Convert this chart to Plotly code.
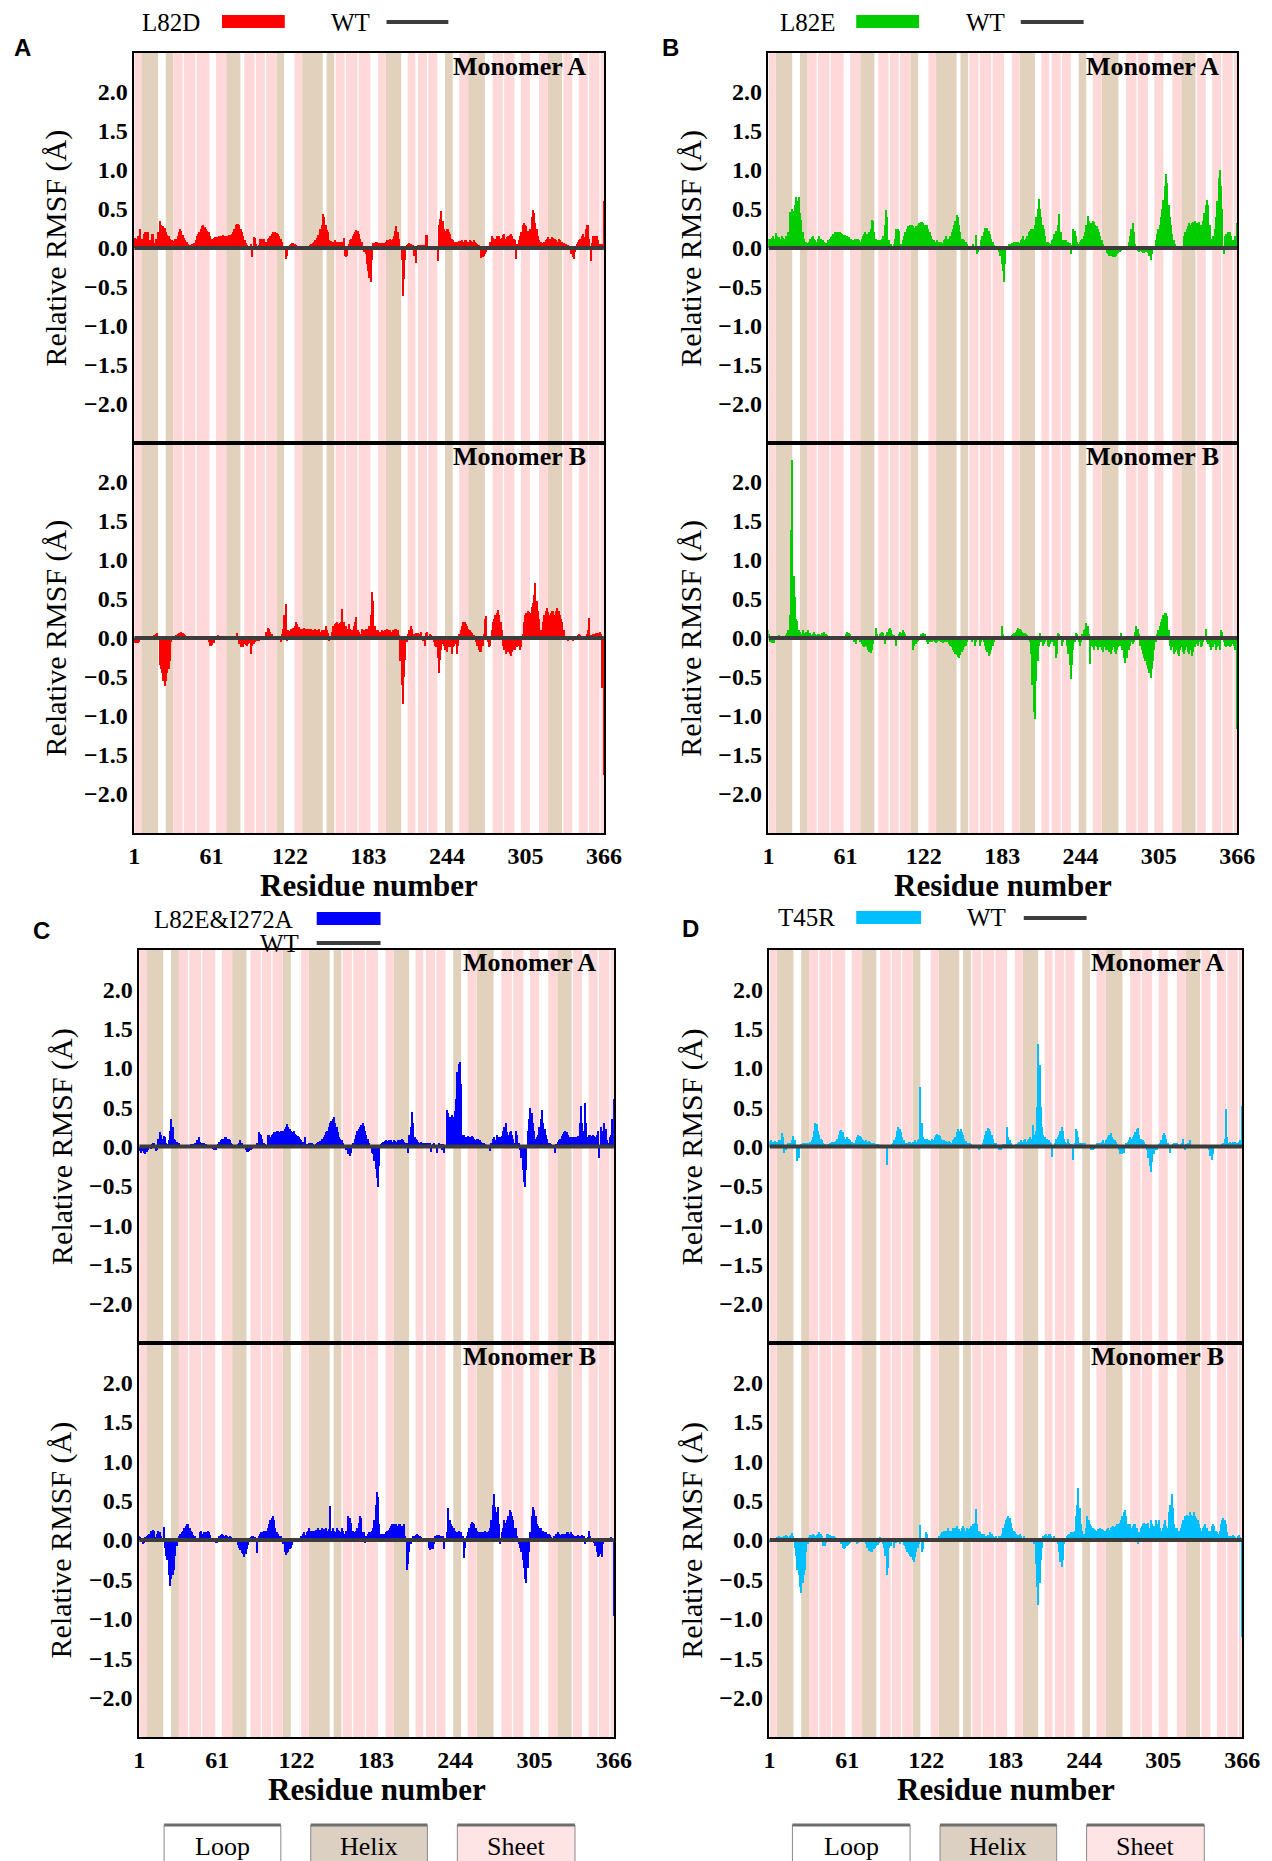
import plotly.graph_objects as go

W, H = 1272, 1861
residues = list(range(1, 367))
wt_relative = [0.0] * 366  # WT relative to itself

x_tick_vals = [1, 61, 122, 183, 244, 305, 366]
y_tick_vals = [-2.0, -1.5, -1.0, -0.5, 0.0, 0.5, 1.0, 1.5, 2.0]

helix_segments = [(7, 19), (26, 31), (73, 83), (112, 117), (132, 147), (151, 156),
                  (197, 208), (243, 248), (261, 273), (323, 333)]
sheet_segments = [(1, 6), (32, 38), (40, 48), (50, 59), (65, 72), (87, 94), (96, 102),
                  (104, 111), (126, 131), (158, 164), (166, 174), (176, 184), (191, 196),
                  (214, 219), (222, 228), (230, 236), (254, 260), (280, 287), (289, 296),
                  (302, 308), (316, 322), (335, 341), (347, 353), (355, 362), (364, 366)]

l82d_monomer_A = [
    0.12, 0.13, 0.12, 0.15, 0.14, 0.25, 0.12, 0.10, 0.18, 0.20,
    0.20, 0.20, 0.10, 0.10, 0.18, 0.18, 0.07, 0.12, 0.12, 0.20,
    0.34, 0.30, 0.22, 0.28, 0.26, 0.20, 0.17, 0.15, 0.12, 0.10,
    0.10, 0.09, 0.11, 0.12, 0.15, 0.20, 0.24, 0.22, 0.17, 0.13,
    0.10, 0.08, 0.05, 0.04, 0.04, 0.05, 0.05, 0.06, 0.10, 0.15,
    0.18, 0.20, 0.24, 0.28, 0.30, 0.27, 0.25, 0.22, 0.20, 0.15,
    0.12, 0.12, 0.13, 0.14, 0.14, 0.14, 0.15, 0.15, 0.16, 0.17,
    0.15, 0.15, 0.15, 0.16, 0.17, 0.17, 0.18, 0.20, 0.24, 0.30,
    0.31, 0.31, 0.30, 0.25, 0.20, 0.15, 0.10, 0.06, 0.04, 0.03,
    0.03, 0.05, -0.11, 0.14, 0.13, 0.05, 0.03, 0.04, 0.12, 0.12,
    0.11, 0.11, 0.04, 0.08, 0.12, 0.13, 0.15, 0.18, 0.20, 0.20,
    0.20, 0.19, 0.18, 0.15, 0.12, 0.08, 0.03, 0.01, -0.14, -0.10,
    0.03, 0.04, 0.05, 0.06, 0.06, 0.05, 0.04, 0.03, 0.03, 0.02,
    0.02, 0.02, 0.02, 0.02, 0.02, 0.02, 0.03, 0.04, 0.05, 0.06,
    0.08, 0.10, 0.13, 0.17, 0.15, 0.25, 0.30, 0.44, 0.40, 0.30,
    0.23, 0.20, 0.10, 0.09, 0.08, 0.08, 0.10, 0.07, 0.08, 0.08,
    0.08, 0.08, 0.08, 0.13, -0.10, -0.12, -0.10, 0.05, 0.10, 0.12,
    0.15, 0.18, 0.20, 0.23, 0.22, 0.18, 0.12, 0.08, 0.03, -0.05,
    -0.08, -0.20, -0.30, -0.38, -0.44, -0.15, 0.06, 0.07, 0.08, 0.08,
    0.07, 0.06, 0.07, 0.07, 0.06, 0.07, 0.08, 0.10, 0.10, 0.12,
    0.10, 0.12, 0.15, 0.22, 0.28, 0.20, 0.12, 0.02, -0.15, -0.62,
    -0.40, -0.15, 0.04, 0.05, 0.06, 0.05, 0.04, 0.04, -0.10, -0.19,
    0.03, 0.04, 0.04, 0.04, 0.03, 0.04, 0.04, 0.17, 0.17, 0.03,
    0.03, 0.03, 0.03, 0.03, 0.03, 0.03, -0.17, 0.30, 0.37, 0.48,
    0.35, 0.24, 0.22, 0.25, 0.24, 0.20, 0.18, 0.12, 0.10, 0.08,
    0.08, 0.08, 0.08, 0.09, 0.09, 0.10, 0.08, 0.10, 0.10, 0.08,
    0.08, 0.10, 0.09, 0.08, 0.10, 0.08, 0.06, 0.05, 0.04, 0.02,
    -0.13, -0.12, -0.10, -0.08, -0.05, -0.03, 0.02, 0.08, 0.16, 0.13,
    0.10, 0.12, 0.15, 0.13, 0.15, 0.12, 0.13, 0.17, 0.18, 0.12,
    0.14, 0.15, 0.17, 0.18, 0.15, 0.12, 0.10, -0.14, 0.05, 0.10,
    0.15, 0.20, 0.30, 0.32, 0.30, 0.28, 0.22, 0.15, 0.25, 0.40,
    0.49, 0.45, 0.32, 0.25, 0.15, 0.10, 0.08, 0.07, 0.06, 0.08,
    0.10, 0.12, 0.14, 0.12, 0.12, 0.14, 0.13, 0.12, 0.10, 0.08,
    0.12, 0.10, 0.08, 0.08, 0.06, 0.05, 0.05, 0.04, 0.02, 0.01,
    -0.08, -0.12, -0.14, -0.05, 0.05, 0.08, 0.10, 0.12, 0.15, 0.18,
    0.14, 0.25, 0.30, 0.30, 0.12, -0.17, 0.06, 0.15, 0.16, 0.16,
    0.15, 0.10, 0.05, 0.04, 0.05, 0.60]

l82d_monomer_B = [
    -0.05, -0.06, -0.06, -0.06, -0.05, -0.02, 0.00, 0.01, 0.01, 0.01,
    0.01, 0.02, 0.02, 0.02, 0.03, 0.03, 0.04, 0.05, 0.07, 0.02,
    -0.35, -0.40, -0.45, -0.55, -0.61, -0.55, -0.45, -0.40, -0.30, -0.05,
    0.02, 0.03, 0.03, 0.04, 0.05, 0.06, 0.07, 0.08, 0.06, 0.05,
    0.04, 0.03, 0.02, 0.01, 0.01, 0.01, 0.01, 0.01, 0.01, 0.01,
    0.01, 0.01, 0.01, 0.01, 0.01, 0.01, 0.01, 0.01, -0.05, -0.10,
    -0.10, -0.09, -0.06, -0.03, 0.02, 0.04, 0.03, 0.01, 0.01, 0.01,
    0.01, 0.01, 0.01, 0.01, 0.01, 0.01, 0.01, 0.01, 0.01, 0.01,
    0.06, 0.03, -0.08, -0.11, -0.10, -0.11, -0.08, -0.09, -0.10, -0.08,
    -0.06, -0.21, -0.10, -0.08, -0.05, -0.04, -0.04, -0.04, -0.03, -0.03,
    -0.03, -0.02, 0.03, 0.08, 0.13, 0.12, 0.08, 0.05, 0.03, 0.03,
    0.03, 0.03, 0.02, 0.03, -0.05, 0.05, 0.12, 0.30, 0.44, -0.04,
    0.10, 0.09, 0.12, 0.10, 0.13, 0.15, 0.20, 0.18, 0.14, 0.12,
    0.08, 0.12, 0.13, 0.12, 0.12, 0.11, 0.12, 0.10, 0.12, 0.10,
    0.10, 0.11, 0.10, 0.09, 0.12, 0.08, 0.10, 0.06, 0.10, 0.15,
    0.10, 0.06, -0.04, 0.02, 0.08, 0.15, 0.18, 0.19, 0.20, 0.18,
    0.19, 0.20, 0.37, 0.20, 0.10, 0.15, 0.12, 0.18, 0.12, 0.10,
    0.10, 0.15, 0.20, 0.27, 0.10, 0.08, 0.05, 0.12, 0.10, 0.10,
    0.12, 0.10, 0.12, 0.15, 0.30, 0.59, 0.48, 0.15, 0.10, 0.10,
    0.10, 0.08, 0.08, 0.10, 0.09, 0.10, 0.10, 0.11, 0.10, 0.10,
    0.08, 0.10, 0.10, 0.12, 0.12, 0.10, 0.04, -0.30, -0.60, -0.85,
    -0.50, -0.28, -0.05, 0.05, 0.10, 0.15, 0.12, 0.05, 0.05, 0.06,
    0.05, 0.07, 0.05, 0.08, 0.02, -0.04, -0.10, 0.06, 0.08, 0.03,
    0.05, 0.04, 0.02, -0.05, -0.10, -0.12, -0.25, -0.45, -0.28, -0.15,
    -0.08, -0.10, -0.15, -0.18, -0.12, -0.10, -0.12, -0.20, -0.12, -0.10,
    -0.08, -0.20, -0.10, 0.05, 0.10, 0.15, 0.21, 0.20, 0.18, 0.15,
    0.12, 0.10, 0.08, 0.06, 0.04, 0.02, -0.05, -0.10, -0.15, -0.18,
    -0.18, -0.10, 0.05, 0.25, 0.28, -0.05, -0.12, -0.10, 0.10, 0.20,
    0.25, 0.30, 0.32, 0.36, 0.30, 0.20, 0.10, -0.10, -0.15, -0.20,
    -0.15, -0.18, -0.20, -0.23, -0.18, -0.15, -0.15, -0.12, -0.12, -0.10,
    -0.15, -0.12, 0.05, 0.20, 0.30, 0.32, 0.35, 0.33, 0.32, 0.40,
    0.45, 0.55, 0.71, 0.48, 0.35, 0.25, 0.10, 0.10, 0.20, 0.30,
    0.35, 0.38, 0.33, 0.30, 0.32, 0.35, 0.34, 0.30, 0.34, 0.38,
    0.35, 0.30, 0.25, 0.20, 0.10, 0.02, -0.03, -0.04, -0.02, 0.01,
    -0.03, -0.04, -0.02, 0.02, 0.03, 0.04, 0.05, 0.04, 0.02, 0.03,
    0.03, -0.02, 0.05, 0.10, 0.26, 0.04, 0.04, 0.05, 0.05, 0.06,
    0.06, 0.06, 0.08, 0.05, -0.64, -1.75]

l82e_monomer_A = [
    0.12, 0.12, 0.11, 0.13, 0.15, 0.12, 0.19, 0.15, 0.10, 0.14,
    0.12, 0.15, 0.13, 0.12, 0.15, 0.13, 0.20, 0.46, 0.45, 0.50,
    0.48, 0.55, 0.66, 0.60, 0.66, 0.45, 0.36, 0.20, 0.12, 0.08,
    0.08, 0.07, 0.08, 0.12, 0.14, 0.15, 0.12, 0.10, 0.08, 0.12,
    0.16, 0.12, 0.08, 0.10, 0.08, 0.06, 0.06, 0.10, 0.12, 0.14,
    0.16, 0.18, 0.20, 0.21, 0.20, 0.21, 0.20, 0.19, 0.18, 0.17,
    0.17, 0.16, 0.15, 0.14, 0.12, 0.12, 0.10, 0.10, 0.11, 0.12,
    0.12, 0.10, 0.08, 0.12, 0.15, 0.18, 0.20, 0.18, 0.16, 0.20,
    0.25, 0.36, 0.35, 0.20, 0.12, 0.10, 0.10, 0.10, 0.10, 0.12,
    0.15, 0.30, 0.49, 0.40, 0.10, 0.05, 0.05, 0.03, 0.05, 0.12,
    0.25, 0.24, 0.22, 0.05, 0.05, 0.10, 0.15, 0.20, 0.25, 0.28,
    0.28, 0.30, 0.30, 0.28, 0.26, 0.28, 0.20, 0.30, 0.32, 0.33,
    0.33, 0.32, 0.30, 0.30, 0.30, 0.25, 0.20, 0.15, 0.12, 0.10,
    0.08, 0.06, 0.10, 0.08, 0.07, 0.08, 0.07, 0.10, 0.12, 0.15,
    0.12, 0.12, 0.15, 0.20, 0.25, 0.30, 0.35, 0.42, 0.40, 0.30,
    0.20, 0.12, 0.12, 0.10, 0.08, 0.05, 0.03, 0.02, 0.02, 0.03,
    0.05, 0.02, 0.17, -0.08, -0.05, 0.02, 0.10, 0.15, 0.20, 0.26,
    0.26, 0.26, 0.22, 0.18, 0.12, 0.08, 0.04, 0.00, -0.01, -0.02,
    -0.05, -0.10, -0.20, -0.30, -0.44, -0.20, 0.02, 0.03, 0.05, 0.05,
    0.06, 0.05, 0.08, 0.08, 0.07, 0.08, 0.07, 0.10, 0.12, 0.15,
    0.10, 0.12, 0.15, 0.20, 0.22, 0.24, 0.24, 0.25, 0.30, 0.40,
    0.50, 0.63, 0.50, 0.40, 0.30, 0.25, 0.15, 0.08, 0.08, 0.06,
    0.05, 0.10, 0.12, 0.18, 0.22, 0.20, 0.30, 0.43, 0.20, 0.10,
    0.10, 0.10, 0.10, 0.08, 0.08, 0.06, -0.08, 0.04, 0.24, 0.22,
    0.15, 0.08, 0.05, 0.08, 0.10, 0.12, 0.15, 0.20, 0.30, 0.41,
    0.35, 0.30, 0.32, 0.34, 0.33, 0.30, 0.28, 0.25, 0.20, 0.15,
    0.10, 0.05, 0.01, -0.03, -0.06, -0.08, -0.10, -0.10, -0.10, -0.12,
    -0.12, -0.10, -0.08, -0.06, -0.05, -0.04, -0.03, -0.02, 0.01, -0.03,
    0.02, 0.08, 0.15, 0.25, 0.32, 0.20, 0.05, 0.01, -0.04, -0.05,
    -0.04, -0.05, -0.06, -0.06, -0.05, -0.05, -0.06, -0.10, -0.15, -0.08,
    0.00, 0.02, 0.10, 0.18, 0.25, 0.30, 0.40, 0.50, 0.62, 0.80,
    0.95, 0.83, 0.55, 0.40, 0.30, 0.18, 0.10, 0.05, 0.03, 0.02,
    0.02, 0.02, 0.03, 0.03, 0.15, 0.20, 0.25, 0.28, 0.32, 0.30,
    0.32, 0.33, 0.30, 0.34, 0.32, 0.30, 0.33, 0.30, 0.28, 0.35,
    0.45, 0.55, 0.62, 0.55, 0.30, 0.10, 0.12, 0.15, 0.25, 0.40,
    0.60, 0.90, 1.00, 0.80, 0.50, -0.08, 0.15, 0.18, 0.20, 0.19,
    0.20, 0.15, 0.10, 0.05, 0.15, 0.32]

l82e_monomer_B = [
    0.10, 0.05, -0.05, -0.06, -0.06, -0.06, -0.02, 0.02, 0.03, 0.04,
    0.02, 0.03, 0.01, 0.02, 0.04, 0.06, 0.10, 0.30, 1.38, 2.28,
    0.80, 0.53, 0.24, 0.22, 0.10, 0.08, 0.05, 0.10, 0.06, 0.04,
    0.08, 0.10, 0.05, 0.06, 0.04, 0.05, 0.08, 0.05, 0.04, 0.05,
    0.05, 0.04, 0.06, 0.03, 0.08, 0.05, 0.04, 0.03, 0.02, 0.03,
    0.03, 0.02, 0.03, 0.02, 0.02, 0.03, 0.02, 0.00, -0.03, -0.03,
    0.02, 0.05, 0.08, 0.07, 0.05, 0.03, -0.02, -0.05, -0.05, -0.08,
    0.02, 0.01, -0.05, -0.08, -0.10, -0.12, -0.10, -0.12, -0.15, -0.18,
    -0.19, -0.15, -0.08, 0.02, 0.13, 0.05, -0.03, 0.05, 0.06, 0.08,
    0.06, -0.08, 0.04, 0.08, 0.12, 0.13, 0.10, 0.05, 0.04, 0.02,
    -0.10, 0.02, 0.05, 0.08, 0.06, 0.10, 0.08, 0.05, 0.03, 0.02,
    0.02, 0.01, -0.03, -0.15, -0.10, -0.08, -0.05, -0.04, 0.02, 0.05,
    0.04, 0.07, 0.05, -0.03, -0.05, -0.08, -0.05, -0.03, -0.05, -0.04,
    -0.05, -0.06, -0.05, -0.04, -0.03, -0.05, -0.06, -0.05, -0.04, -0.05,
    -0.05, -0.08, -0.10, -0.12, -0.15, -0.18, -0.20, -0.22, -0.24, -0.26,
    -0.22, -0.18, -0.15, -0.12, -0.10, -0.05, -0.02, 0.01, -0.03, -0.05,
    -0.02, -0.10, -0.05, 0.02, 0.03, -0.10, -0.05, 0.01, -0.05, -0.10,
    -0.15, -0.18, -0.23, -0.20, -0.15, -0.10, -0.05, 0.02, 0.03, 0.02,
    0.01, 0.02, 0.16, 0.05, -0.02, -0.03, -0.02, -0.01, 0.01, 0.03,
    0.04, 0.05, 0.06, 0.08, 0.10, 0.13, 0.12, 0.10, 0.08, 0.06,
    0.06, 0.05, 0.04, 0.02, -0.05, -0.20, -0.60, -0.95, -1.04, -0.55,
    -0.30, -0.10, 0.06, -0.05, -0.10, -0.08, -0.05, 0.02, -0.10, -0.12,
    -0.08, -0.05, -0.03, -0.10, -0.25, -0.20, 0.06, 0.05, -0.03, -0.10,
    -0.05, -0.03, -0.02, -0.10, -0.20, -0.35, -0.53, -0.35, -0.15, -0.05,
    0.06, 0.05, -0.05, -0.10, -0.05, 0.05, 0.10, 0.12, 0.19, 0.15,
    0.05, -0.33, -0.10, -0.12, -0.15, -0.10, -0.12, -0.15, -0.10, -0.12,
    -0.15, -0.18, -0.12, -0.15, -0.16, -0.12, -0.18, -0.20, -0.15, -0.12,
    -0.18, -0.20, -0.15, -0.12, -0.10, 0.06, -0.15, -0.25, -0.32, -0.20,
    -0.25, -0.15, -0.10, -0.05, -0.08, -0.05, 0.08, 0.15, 0.12, 0.05,
    -0.10, -0.15, -0.20, -0.25, -0.30, -0.35, -0.40, -0.45, -0.51, -0.40,
    -0.30, -0.15, -0.05, 0.05, 0.10, 0.15, 0.20, 0.25, 0.30, 0.32,
    0.32, 0.28, 0.10, -0.10, -0.15, -0.12, -0.20, -0.18, -0.15, -0.20,
    -0.23, -0.15, -0.12, -0.18, -0.20, -0.15, -0.12, -0.18, -0.20, -0.15,
    -0.23, -0.18, -0.10, -0.12, -0.08, -0.10, -0.05, -0.12, -0.10, -0.05,
    -0.02, 0.12, -0.05, -0.08, -0.12, -0.15, -0.10, -0.12, -0.08, -0.15,
    -0.12, -0.10, -0.15, 0.10, 0.08, -0.05, -0.10, -0.12, -0.10, -0.08,
    -0.12, -0.10, -0.08, -0.10, -0.15, -1.17]

l82e_i272a_monomer_A = [
    -0.04, -0.06, -0.08, -0.06, -0.08, -0.10, -0.07, -0.05, -0.02, -0.03,
    0.03, 0.05, 0.05, -0.06, -0.04, 0.10, 0.18, 0.15, 0.10, 0.13,
    0.12, 0.05, 0.03, 0.08, 0.20, 0.35, 0.25, 0.10, 0.08, 0.06,
    0.05, 0.05, 0.02, 0.02, 0.02, 0.02, 0.02, 0.02, 0.02, 0.02,
    0.03, 0.03, 0.03, 0.05, 0.05, 0.08, 0.12, 0.06, 0.05, 0.04,
    0.04, 0.03, 0.03, 0.02, 0.02, 0.02, 0.01, -0.03, -0.05, -0.04,
    -0.02, 0.03, 0.06, 0.08, 0.10, 0.10, 0.12, 0.12, 0.10, 0.10,
    0.08, 0.05, 0.03, 0.02, 0.02, 0.02, 0.03, 0.05, 0.08, 0.05,
    0.01, 0.01, -0.05, -0.07, -0.07, -0.06, -0.05, -0.03, 0.00, 0.02,
    0.02, 0.04, 0.18, 0.16, 0.15, 0.10, 0.05, 0.03, 0.02, 0.15,
    0.15, 0.12, 0.15, 0.16, 0.18, 0.18, 0.20, 0.20, 0.18, 0.20,
    0.18, 0.20, 0.22, 0.25, 0.28, 0.25, 0.22, 0.20, 0.18, 0.20,
    0.16, 0.15, 0.13, 0.12, 0.10, 0.08, 0.06, 0.05, 0.12, 0.03,
    0.03, 0.04, 0.05, 0.04, 0.03, 0.02, 0.03, 0.05, 0.06, 0.07,
    0.07, 0.10, 0.12, 0.15, 0.18, 0.20, 0.25, 0.30, 0.32, 0.35,
    0.37, 0.30, 0.25, 0.18, 0.12, 0.10, 0.08, 0.05, 0.02, -0.05,
    -0.05, -0.10, -0.12, -0.08, 0.02, 0.05, 0.10, 0.15, 0.20, 0.22,
    0.25, 0.27, 0.30, 0.26, 0.20, 0.15, 0.10, 0.05, 0.02, -0.08,
    -0.10, -0.18, -0.28, -0.40, -0.51, -0.25, 0.03, 0.04, 0.06, 0.07,
    0.08, 0.07, 0.08, 0.07, 0.08, 0.06, 0.08, 0.07, 0.06, 0.08,
    0.06, 0.08, 0.10, 0.08, 0.06, 0.05, 0.04, -0.08, 0.15, 0.25,
    0.44, 0.30, 0.12, 0.10, 0.08, 0.06, 0.05, 0.06, 0.05, 0.04,
    0.05, 0.04, 0.05, 0.02, 0.05, -0.07, 0.03, 0.04, 0.02, -0.08,
    0.02, 0.04, 0.03, -0.05, 0.03, -0.08, 0.02, 0.47, 0.42, 0.38,
    0.35, 0.40, 0.38, 0.45, 0.60, 0.95, 1.05, 1.08, 0.80, 0.15,
    0.15, 0.12, 0.12, 0.13, 0.12, 0.12, 0.13, 0.12, 0.10, 0.08,
    0.10, 0.10, 0.08, 0.06, 0.05, 0.04, 0.03, 0.02, 0.02, 0.01,
    -0.06, 0.05, 0.10, 0.12, 0.08, 0.15, 0.10, 0.12, 0.12, 0.14,
    0.20, 0.25, 0.30, 0.18, 0.15, 0.18, 0.20, 0.15, 0.10, 0.05,
    0.20, 0.15, 0.05, -0.05, -0.15, -0.30, -0.45, -0.51, -0.30, 0.20,
    0.35, 0.49, 0.42, 0.30, 0.20, 0.10, 0.12, 0.15, 0.25, 0.35,
    0.47, 0.30, 0.22, 0.15, 0.10, 0.05, 0.04, 0.03, 0.02, 0.02,
    -0.08, 0.03, 0.06, 0.08, 0.10, 0.13, 0.16, 0.18, 0.20, 0.18,
    0.15, 0.12, 0.12, 0.12, 0.12, 0.12, 0.12, 0.12, 0.14, 0.30,
    0.51, 0.30, 0.20, 0.55, 0.30, 0.12, 0.15, 0.15, 0.14, 0.15,
    0.14, 0.12, 0.15, 0.20, -0.15, 0.25, 0.20, 0.12, 0.30, 0.22,
    0.08, 0.05, 0.12, 0.15, 0.35, 0.60]

l82e_i272a_monomer_B = [
    0.05, 0.04, -0.03, -0.05, -0.04, 0.04, 0.05, 0.06, 0.08, 0.12,
    0.10, 0.13, 0.12, 0.04, 0.08, 0.12, 0.10, 0.05, -0.03, 0.17,
    -0.10, -0.20, -0.25, -0.45, -0.59, -0.50, -0.45, -0.38, -0.20, -0.08,
    0.03, 0.05, 0.08, 0.10, 0.12, 0.15, 0.18, 0.20, 0.20, 0.15,
    0.12, 0.10, 0.06, 0.05, 0.03, 0.03, 0.03, 0.10, 0.12, 0.08,
    0.10, 0.08, 0.10, 0.12, 0.10, 0.06, 0.03, 0.02, 0.02, -0.04,
    -0.04, 0.03, 0.05, 0.06, 0.08, 0.06, 0.05, 0.06, 0.05, 0.04,
    0.05, 0.04, 0.02, 0.01, 0.00, -0.03, -0.06, -0.10, -0.13, -0.16,
    -0.18, -0.21, -0.18, -0.12, -0.06, 0.02, 0.04, 0.05, 0.05, 0.04,
    0.03, -0.17, 0.05, 0.08, 0.10, 0.10, 0.12, 0.10, 0.12, 0.15,
    0.20, 0.25, 0.28, 0.30, 0.25, 0.15, 0.10, 0.08, 0.05, 0.05,
    0.00, -0.05, -0.15, -0.19, -0.17, -0.15, -0.12, -0.10, -0.06, -0.03,
    0.00, 0.01, 0.00, 0.01, 0.02, 0.05, 0.08, 0.10, 0.06, 0.10,
    0.12, 0.15, 0.12, 0.12, 0.10, 0.12, 0.13, 0.12, 0.15, 0.13,
    0.12, 0.15, 0.14, 0.12, 0.15, 0.12, 0.14, 0.43, 0.12, 0.15,
    0.12, 0.10, 0.15, 0.13, 0.12, 0.10, 0.15, 0.12, 0.08, 0.12,
    0.12, 0.30, 0.28, 0.22, 0.10, 0.12, 0.10, 0.12, 0.15, 0.22,
    0.30, 0.28, 0.10, 0.10, -0.04, 0.05, 0.08, 0.10, 0.10, 0.12,
    0.15, 0.25, 0.45, 0.61, 0.55, 0.20, 0.08, 0.05, 0.07, 0.08,
    0.10, 0.12, 0.13, 0.15, 0.18, 0.20, 0.20, 0.18, 0.20, 0.18,
    0.20, 0.20, 0.18, 0.15, 0.20, 0.05, -0.38, -0.30, -0.15, -0.05,
    0.03, 0.05, 0.05, 0.06, 0.08, 0.06, 0.05, 0.04, 0.03, 0.02,
    0.03, 0.02, -0.03, -0.10, -0.13, -0.12, -0.12, -0.05, 0.05, 0.06,
    0.06, 0.06, 0.05, 0.04, 0.05, -0.12, 0.03, 0.10, 0.40, 0.25,
    0.20, 0.18, 0.15, 0.12, 0.10, 0.10, 0.12, 0.10, 0.10, 0.05,
    -0.23, -0.10, 0.05, 0.10, 0.15, 0.20, 0.23, 0.22, 0.20, 0.15,
    0.12, 0.10, 0.10, 0.08, 0.10, 0.10, 0.12, 0.10, 0.10, 0.12,
    0.15, 0.25, 0.45, 0.58, 0.42, 0.35, 0.42, 0.20, -0.05, 0.10,
    0.15, 0.25, 0.22, 0.25, 0.30, 0.38, 0.35, 0.30, 0.25, 0.15,
    0.15, 0.05, -0.05, -0.10, -0.15, -0.25, -0.35, -0.50, -0.55, -0.35,
    -0.15, 0.10, 0.30, 0.42, 0.38, 0.30, 0.20, 0.18, 0.15, 0.15,
    0.12, 0.12, 0.10, 0.10, 0.08, 0.08, 0.06, 0.04, 0.03, 0.05,
    0.05, 0.08, 0.10, 0.08, 0.06, 0.08, 0.06, 0.08, 0.08, 0.10,
    0.10, 0.08, 0.10, 0.08, 0.06, 0.05, 0.05, 0.05, 0.06, 0.05,
    0.04, 0.06, 0.05, -0.05, 0.02, 0.04, 0.12, 0.05, -0.03, -0.02,
    -0.04, -0.08, -0.15, -0.21, -0.20, -0.18, -0.21, -0.05, 0.02, 0.03,
    0.02, 0.03, 0.03, 0.04, 0.02, -0.97]

t45r_monomer_A = [
    0.06, 0.07, 0.08, 0.06, 0.05, 0.07, 0.06, 0.05, 0.08, 0.08,
    0.17, 0.12, -0.08, -0.04, 0.02, 0.04, 0.05, 0.03, 0.08, 0.13,
    0.08, 0.02, -0.19, -0.15, 0.02, 0.03, 0.04, 0.05, 0.04, 0.05,
    0.05, 0.05, 0.06, 0.08, 0.12, 0.20, 0.30, 0.28, 0.20, 0.15,
    0.10, 0.08, 0.05, 0.03, 0.02, 0.02, 0.03, 0.04, 0.05, 0.06,
    0.06, 0.05, 0.07, 0.10, 0.15, 0.20, 0.21, 0.18, 0.12, 0.10,
    0.12, 0.10, 0.10, 0.08, 0.06, 0.04, 0.05, 0.08, 0.12, 0.15,
    0.13, 0.12, 0.10, 0.08, 0.07, 0.08, 0.06, 0.07, 0.06, 0.05,
    0.05, 0.04, 0.03, 0.03, 0.03, 0.02, 0.02, 0.01, 0.01, -0.01,
    0.01, -0.23, 0.01, 0.02, 0.02, 0.03, 0.04, 0.08, 0.12, 0.20,
    0.25, 0.22, 0.18, 0.12, 0.08, 0.05, 0.04, 0.05, 0.06, 0.06,
    0.05, 0.06, 0.06, 0.08, 0.06, 0.08, 0.10, 0.76, 0.30, 0.12,
    0.10, 0.10, 0.09, 0.08, 0.08, 0.07, 0.10, 0.08, 0.12, 0.15,
    0.16, 0.15, 0.14, 0.10, 0.08, 0.08, 0.06, 0.07, 0.06, 0.07,
    0.06, 0.05, 0.08, 0.10, 0.12, 0.18, 0.22, 0.20, 0.22, 0.18,
    0.15, 0.10, 0.07, 0.05, 0.05, 0.04, 0.03, 0.02, 0.02, 0.01,
    0.01, -0.02, -0.05, -0.03, 0.01, 0.05, 0.10, 0.15, 0.20, 0.23,
    0.22, 0.20, 0.15, 0.10, 0.05, 0.04, 0.02, 0.02, -0.04, -0.04,
    0.02, 0.03, 0.03, 0.02, 0.25, 0.12, 0.08, 0.05, 0.01, 0.01,
    0.01, 0.03, 0.05, 0.06, 0.06, 0.08, 0.06, 0.08, 0.10, 0.06,
    0.08, 0.10, 0.12, 0.10, 0.27, 0.15, 0.20, 0.50, 1.30, 1.04,
    0.50, 0.25, 0.15, 0.12, 0.10, 0.10, 0.08, 0.06, 0.05, -0.13,
    0.02, 0.05, 0.10, 0.12, 0.15, 0.20, 0.25, 0.20, 0.10, 0.06,
    0.05, 0.10, 0.05, 0.03, 0.03, -0.17, 0.04, 0.22, 0.20, 0.12,
    0.05, 0.05, 0.05, 0.05, 0.04, 0.02, 0.01, 0.01, 0.00, -0.05,
    -0.05, -0.03, 0.02, 0.04, 0.05, 0.04, 0.05, 0.06, 0.08, 0.05,
    0.08, 0.10, 0.12, 0.15, 0.17, 0.12, 0.10, 0.08, 0.06, 0.03,
    -0.05, -0.10, -0.10, -0.10, -0.08, -0.02, 0.04, 0.06, 0.08, 0.12,
    0.10, 0.12, 0.15, 0.18, 0.22, 0.24, 0.15, 0.10, 0.08, 0.08,
    0.06, 0.03, -0.05, -0.15, -0.25, -0.32, -0.20, -0.10, -0.05, -0.05,
    -0.05, 0.03, 0.05, 0.08, 0.15, 0.17, 0.15, 0.10, 0.05, 0.02,
    -0.08, 0.02, 0.03, 0.04, 0.05, 0.04, 0.03, 0.02, 0.03, 0.04,
    0.10, -0.05, 0.03, 0.02, 0.05, 0.08, 0.02, 0.02, 0.02, 0.02,
    0.02, 0.02, 0.02, 0.01, 0.02, 0.02, 0.01, 0.02, 0.01, 0.00,
    -0.05, -0.12, -0.17, -0.10, 0.01, 0.01, 0.02, 0.02, 0.02, 0.02,
    0.03, 0.05, 0.10, 0.48, 0.12, 0.05, 0.06, 0.05, 0.06, 0.06,
    0.06, 0.05, 0.05, 0.06, 0.08, 0.51]

t45r_monomer_B = [
    -0.04, -0.03, 0.02, 0.01, 0.02, 0.03, 0.04, 0.03, 0.05, 0.04,
    0.04, 0.03, 0.05, 0.06, 0.05, 0.04, 0.05, 0.06, 0.09, 0.05,
    -0.10, -0.20, -0.38, -0.45, -0.60, -0.67, -0.55, -0.45, -0.38, -0.15,
    -0.05, 0.04, 0.06, 0.06, 0.07, 0.06, 0.05, 0.06, 0.08, 0.10,
    0.08, 0.05, -0.08, -0.07, -0.04, 0.07, 0.07, 0.06, 0.04, 0.05,
    0.05, 0.04, 0.03, 0.02, 0.03, 0.02, -0.05, -0.10, -0.12, -0.10,
    -0.08, -0.06, -0.05, -0.04, -0.03, 0.02, 0.02, 0.03, -0.05, -0.04,
    -0.03, 0.02, 0.03, 0.02, 0.01, -0.05, -0.10, -0.14, -0.12, -0.15,
    -0.15, -0.12, -0.10, -0.08, -0.06, -0.04, 0.04, 0.03, -0.05, -0.10,
    -0.20, -0.45, -0.35, -0.10, -0.08, 0.03, 0.03, -0.10, -0.04, 0.03,
    0.02, -0.05, 0.03, -0.02, -0.06, -0.08, -0.12, -0.15, -0.18, -0.20,
    -0.22, -0.25, -0.28, -0.22, -0.15, -0.10, -0.05, 0.19, -0.15, -0.12,
    0.03, 0.10, 0.08, -0.03, 0.02, 0.02, 0.03, 0.02, 0.02, 0.03,
    0.03, 0.05, 0.05, 0.08, 0.10, 0.12, 0.10, 0.12, 0.15, 0.12,
    0.10, 0.12, 0.15, 0.12, 0.15, 0.18, 0.12, 0.14, 0.12, 0.15,
    0.18, 0.15, 0.12, 0.15, 0.14, 0.15, 0.18, 0.15, 0.20, 0.22,
    0.39, 0.20, 0.12, 0.10, 0.08, 0.08, 0.07, 0.05, 0.05, 0.06,
    0.06, 0.10, 0.08, 0.05, 0.04, 0.05, 0.02, 0.03, 0.05, 0.05,
    0.08, 0.15, 0.20, 0.25, 0.28, 0.30, 0.28, 0.22, 0.15, 0.12,
    0.10, 0.08, 0.06, 0.05, 0.08, 0.05, 0.03, 0.05, 0.03, 0.02,
    0.02, 0.03, 0.02, 0.02, 0.01, -0.05, -0.30, -0.60, -0.83, -0.55,
    -0.25, -0.10, 0.05, 0.06, 0.07, 0.05, 0.07, 0.08, 0.05, 0.03,
    0.05, 0.03, 0.00, -0.05, -0.15, -0.28, -0.34, -0.25, -0.05, 0.03,
    0.05, 0.06, 0.08, 0.10, 0.10, 0.10, 0.12, 0.30, 0.45, 0.66,
    0.40, 0.20, 0.12, 0.08, 0.07, 0.15, 0.30, 0.25, 0.20, 0.18,
    0.15, 0.14, 0.13, 0.12, 0.14, 0.13, 0.15, 0.14, 0.13, 0.12,
    0.12, 0.14, 0.15, 0.13, 0.15, 0.17, 0.18, 0.16, 0.18, 0.20,
    0.20, 0.22, 0.25, 0.30, 0.35, 0.38, 0.30, 0.20, 0.18, 0.20,
    0.15, 0.18, 0.20, 0.20, 0.15, -0.05, 0.10, 0.15, 0.18, 0.20,
    0.22, 0.20, 0.18, 0.22, 0.15, 0.25, 0.20, 0.18, 0.15, 0.25,
    0.20, 0.25, 0.15, 0.12, 0.15, 0.20, 0.25, 0.18, 0.15, 0.35,
    0.45, 0.58, 0.40, 0.20, 0.15, 0.15, 0.12, 0.12, 0.15, 0.20,
    0.25, 0.30, 0.28, 0.32, 0.30, 0.35, 0.32, 0.30, 0.35, 0.30,
    0.28, 0.25, 0.20, 0.15, 0.12, 0.15, 0.18, 0.20, 0.15, 0.12,
    0.10, 0.12, 0.18, 0.20, 0.18, 0.12, 0.10, 0.08, 0.12, 0.20,
    0.25, 0.28, 0.25, 0.20, 0.10, 0.05, 0.04, 0.05, 0.06, 0.05,
    0.04, 0.03, 0.05, 0.06, 0.04, -1.23]

series_check = {
    "l82d_monomer_A": l82d_monomer_A, "l82d_monomer_B": l82d_monomer_B,
    "l82e_monomer_A": l82e_monomer_A, "l82e_monomer_B": l82e_monomer_B,
    "l82e_i272a_monomer_A": l82e_i272a_monomer_A, "l82e_i272a_monomer_B": l82e_i272a_monomer_B,
    "t45r_monomer_A": t45r_monomer_A, "t45r_monomer_B": t45r_monomer_B,
}
bad = {k: len(v) for k, v in series_check.items() if len(v) != 366}
if bad:
    raise ValueError(f"length mismatch: {bad}")

SERIF = "Liberation Serif"
SANS = "Liberation Sans"
HELIX_COLOR = "#E2D1BC"
SHEET_COLOR = "#FFD9DA"
WT_COLOR = "#3C3C3C"

panels = [
    dict(letter="A", label="L82D", color="#FF0000", top=l82d_monomer_A, bot=l82d_monomer_B,
         left=133, right=604, ytop=53, ymid=443, ybot=833),
    dict(letter="B", label="L82E", color="#00CC00", top=l82e_monomer_A, bot=l82e_monomer_B,
         left=769, right=1239, ytop=53, ymid=443, ybot=833),
    dict(letter="C", label="L82E&I272A", color="#0000FF", top=l82e_i272a_monomer_A,
         bot=l82e_i272a_monomer_B, left=138, right=614, ytop=950, ymid=1343, ybot=1737),
    dict(letter="D", label="T45R", color="#00BFFF", top=t45r_monomer_A, bot=t45r_monomer_B,
         left=770, right=1244, ytop=950, ymid=1343, ybot=1737),
]

# horizontal calibration of the rendered page (measured: rendered_x = 0.9838 * x + 4.45)
SX, OX = 0.9838, 4.45


def fx(px):
    return (px - OX) / (SX * W)


def fy(py):
    return 1 - py / H


fig = go.Figure()
shapes = []
annotations = []
layout_axes = {}

tick_font = dict(family=SERIF, size=24, color="black", weight="bold")

for p_i, p in enumerate(panels):
    for sub, (vals, yt, yb) in enumerate([(p["top"], p["ytop"], p["ymid"]),
                                          (p["bot"], p["ymid"], p["ybot"])]):
        k = 2 * p_i + sub + 1
        xa_name = "xaxis" if k == 1 else f"xaxis{k}"
        ya_name = "yaxis" if k == 1 else f"yaxis{k}"
        xr = "x" if k == 1 else f"x{k}"
        yr = "y" if k == 1 else f"y{k}"
        fig.add_trace(go.Bar(x=residues, y=vals, width=1.0, xaxis=xr, yaxis=yr,
                             marker=dict(color=p["color"], line=dict(width=0)),
                             showlegend=False, hoverinfo="skip"))
        fig.add_trace(go.Scatter(x=residues, y=wt_relative, mode="lines", xaxis=xr, yaxis=yr,
                                 line=dict(color=WT_COLOR, width=4), showlegend=False,
                                 hoverinfo="skip"))
        layout_axes[xa_name] = dict(
            domain=[fx(p["left"]), fx(p["right"])], range=[1, 366], anchor=yr,
            showline=True, mirror=True, linecolor="black", linewidth=1.5,
            showgrid=False, zeroline=False, ticks="",
            tickvals=x_tick_vals, ticktext=[str(v) for v in x_tick_vals],
            showticklabels=(sub == 1), ticklabelstandoff=0,
            tickfont=tick_font)
        layout_axes[ya_name] = dict(
            domain=[fy(yb), fy(yt)], range=[-2.5, 2.5], anchor=xr,
            showline=True, mirror=True, linecolor="black", linewidth=1.5,
            showgrid=False, zeroline=False, ticks="",
            tickvals=y_tick_vals, tickformat=".1f", ticklabelstandoff=0,
            tickfont=tick_font)
        # Monomer label
        annotations.append(dict(
            x=fx(p["right"] - 16), y=fy(yt + 13), xref="paper", yref="paper",
            xanchor="right", yanchor="middle", showarrow=False,
            text="Monomer A" if sub == 0 else "Monomer B",
            font=dict(family=SERIF, size=26, color="black", weight="bold")))
        # y-axis title
        annotations.append(dict(
            x=fx(p["left"] - 78), y=fy((yt + yb) / 2), xref="paper", yref="paper",
            xanchor="center", yanchor="middle", showarrow=False, textangle=-90,
            text="Relative RMSF (Å)",
            font=dict(family=SERIF, size=30, color="black")))

    # secondary-structure background bands
    xref_top = "x" if p_i == 0 else f"x{2 * p_i + 1}"
    for segs, col in [(helix_segments, HELIX_COLOR), (sheet_segments, SHEET_COLOR)]:
        for s, e in segs:
            shapes.append(dict(type="rect", xref=xref_top, yref="paper",
                               x0=max(s - 0.5, 1), x1=min(e + 0.5, 366),
                               y0=fy(p["ybot"]), y1=fy(p["ytop"]),
                               fillcolor=col, line=dict(width=0), layer="below"))

    # x-axis title
    annotations.append(dict(
        x=fx((p["left"] + p["right"]) / 2), y=fy(p["ybot"] + 52), xref="paper", yref="paper",
        xanchor="center", yanchor="middle", showarrow=False, text="Residue number",
        font=dict(family=SERIF, size=31, color="black", weight="bold")))

# Panel letters
for letter, x, y in [("A", 21, 47), ("B", 671, 47), ("C", 40, 930), ("D", 691, 928)]:
    annotations.append(dict(x=fx(x), y=fy(y), xref="paper", yref="paper", showarrow=False,
                            xanchor="center", yanchor="middle", text=letter,
                            font=dict(family=SANS, size=24, color="black", weight="bold")))

# Top legends
legend_font = dict(family=SERIF, size=25, color="black")
leg_items = [
    ("L82D", 170, 22, 221, 284, "#FF0000", 350, 386, 448, 22),
    ("L82E", 809, 22, 857, 920, "#00CC00", 987, 1022, 1085, 22),
    ("T45R", 807, 918, 857, 922, "#00BFFF", 988, 1025, 1088, 918),
]
for txt, xc, yc, r0, r1, col, wtx, l0, l1, ly in leg_items:
    annotations.append(dict(x=fx(xc), y=fy(yc), xref="paper", yref="paper", showarrow=False,
                            xanchor="center", yanchor="middle", text=txt, font=legend_font))
    shapes.append(dict(type="rect", xref="paper", yref="paper", x0=fx(r0), x1=fx(r1),
                       y0=fy(yc + 6), y1=fy(yc - 7), fillcolor=col, line=dict(width=0)))
    annotations.append(dict(x=fx(wtx), y=fy(yc), xref="paper", yref="paper", showarrow=False,
                            xanchor="center", yanchor="middle", text="WT", font=legend_font))
    shapes.append(dict(type="line", xref="paper", yref="paper", x0=fx(l0), x1=fx(l1),
                       y0=fy(ly), y1=fy(ly), line=dict(color=WT_COLOR, width=4)))

# Panel C legend (stacked)
annotations.append(dict(x=fx(294), y=fy(919), xref="paper", yref="paper", showarrow=False,
                        xanchor="right", yanchor="middle", text="L82E&amp;I272A", font=legend_font))
shapes.append(dict(type="rect", xref="paper", yref="paper", x0=fx(316), x1=fx(380),
                   y0=fy(925), y1=fy(912), fillcolor="#0000FF", line=dict(width=0)))
annotations.append(dict(x=fx(300), y=fy(943), xref="paper", yref="paper", showarrow=False,
                        xanchor="right", yanchor="middle", text="WT", font=legend_font))
shapes.append(dict(type="line", xref="paper", yref="paper", x0=fx(316), x1=fx(380),
                   y0=fy(943), y1=fy(943), line=dict(color=WT_COLOR, width=4)))

# Bottom secondary-structure legend boxes
box_specs = [
    ("Loop", 163, 280, "#FFFFFF"), ("Helix", 310, 427, "#DBD0C2"), ("Sheet", 457, 575, "#FFE4E5"),
    ("Loop", 793, 911, "#FFFFFF"), ("Helix", 941, 1058, "#DBD0C2"), ("Sheet", 1088, 1206, "#FFE4E5"),
]
for txt, x0, x1, col in box_specs:
    shapes.append(dict(type="rect", xref="paper", yref="paper", x0=fx(x0), x1=fx(x1),
                       y0=fy(1866), y1=fy(1825), fillcolor=col,
                       line=dict(color="#8A8A8A", width=1)))
    shapes.append(dict(type="line", xref="paper", yref="paper", x0=fx(x0), x1=fx(x1),
                       y0=fy(1825), y1=fy(1825), line=dict(color="#6E6E6E", width=3)))
    annotations.append(dict(x=fx((x0 + x1) / 2), y=fy(1846), xref="paper", yref="paper",
                            showarrow=False, xanchor="center", yanchor="middle", text=txt,
                            font=dict(family=SERIF, size=26, color="black")))

fig.update_layout(
    width=W, height=H, autosize=False, margin=dict(l=0, r=0, t=0, b=0, pad=0),
    paper_bgcolor="white", plot_bgcolor="rgba(0,0,0,0)",
    bargap=0, showlegend=False,
    font=dict(family=SERIF, color="black"),
    shapes=shapes, annotations=annotations,
    **layout_axes)

fig.write_html("out.html", config={"responsive": False})
